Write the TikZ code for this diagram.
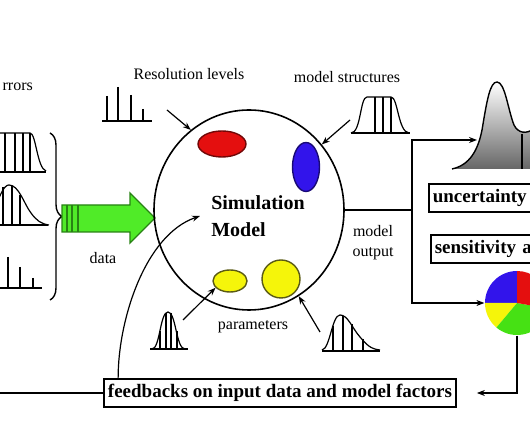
\documentclass[tikz,border=0pt]{standalone}
\usepackage{fontspec}
\setmainfont{Liberation Serif}
\usetikzlibrary{shapes.geometric,arrows.meta,decorations.pathreplacing}

\definecolor{pfeilgruen}{RGB}{80,235,40}
\definecolor{dunkelgruen}{RGB}{40,130,20}
\definecolor{rotfl}{RGB}{228,15,15}
\definecolor{blaufl}{RGB}{50,20,235}
\definecolor{gelbfl}{RGB}{245,245,10}
\definecolor{gruenfl}{RGB}{70,225,20}
\definecolor{oliv}{RGB}{90,90,20}

\tikzset{
	beschriftung/.style={font=\fontsize{8}{10}\selectfont, inner sep=1pt},
	ergebnis/.style={draw, line width=0.8pt, font=\fontsize{9.5}{11}\selectfont\bfseries,
		inner xsep=2pt, inner ysep=2.5pt, text height=7pt, text depth=2pt},
	zeiger/.style={-{Stealth[length=4pt,width=3pt]}, line width=0.6pt},
	fleck/.style={ellipse, draw, line width=0.7pt, inner sep=0pt}
}

\begin{document}
\begin{tikzpicture}[x=0.5pt, y=-0.5pt, line width=0.6pt]
	\clip (0,0) rectangle (530,442);

	% Eingangsdaten links
	\node[beschriftung, anchor=west] (fehler) at (0,87) {rrors};
	\draw (-12,172) .. controls (-6,172) and (-7,133) .. (-2,133) -- (30,133)
		.. controls (36,133) and (37,168) .. (46,171);
	\draw (-5,172) -- (46,172);
	\foreach \x in {5,15,23,30}
		\draw (\x,133) -- (\x,172);
	\draw (-20,225) .. controls (-6,225) and (-1,185) .. (9,185)
		.. controls (19,185) and (24,204) .. (31,213)
		.. controls (36,220) and (41,224) .. (49,225);
	\draw (-5,225) -- (48,225);
	\draw (3,187) -- (3,225);
	\draw (12,186) -- (12,225);
	\draw (20,195) -- (20,225);
	\draw (-5,288) -- (42,288);
	\draw (8,257) -- (8,288);
	\draw (20,267) -- (20,288);
	\draw (33,278) -- (33,288);
	\draw[decorate, decoration={brace, amplitude=6pt}, line width=0.7pt] (50,133) -- (50,300);

	% Datenpfeil
	\filldraw[fill=pfeilgruen, draw=dunkelgruen, line width=0.7pt] (62,205) -- (130,205)
		-- (130,193) -- (155,218) -- (130,243) -- (130,232) -- (62,232) -- cycle;
	\foreach \x in {67,72,78}
		\draw[dunkelgruen, line width=0.8pt] (\x,205) -- (\x,232);
	\node[beschriftung] (daten) at (103,258) {data};

	% Simulationsmodell
	\node[ellipse, draw, line width=0.8pt, minimum width=95pt, minimum height=100pt] (sim) at (249,210) {};
	\node[anchor=west, align=left, font=\fontsize{10}{13.5}\selectfont\bfseries] (modell) at (204,216) {Simulation\\Model};
	\node[fleck, fill=rotfl, draw=rotfl!50!black, minimum width=24pt, minimum height=13pt] (rot) at (222,144) {};
	\node[fleck, fill=blaufl, draw=blaufl!50!black, minimum width=13.5pt, minimum height=24.5pt] (blau) at (306,167) {};
	\node[fleck, fill=gelbfl, draw=oliv, minimum width=17pt, minimum height=11pt] (parA) at (230,281) {};
	\node[fleck, fill=gelbfl, draw=oliv, minimum width=19pt, minimum height=19pt] (parB) at (281,279) {};

	% Aufloesung
	\node[beschriftung] (aufloesung) at (189,74) {Resolution levels};
	\draw (102,121) -- (152,121);
	\draw (107,96) -- (107,121);
	\draw (118,87) -- (118,121);
	\draw (131,95) -- (131,121);
	\draw (143,109) -- (143,121);
	\coordinate (aufl) at (167,110);
	\draw[zeiger] (aufl) -- (sim.126);

	% Modellstrukturen
	\node[beschriftung] (struktur) at (347,77) {model structures};
	\draw (351,133) .. controls (361,133) and (360,97) .. (367,97) -- (391,97)
		.. controls (398,97) and (398,132) .. (409,133);
	\draw (351,133) -- (410,133);
	\foreach \x in {375,383,391}
		\draw (\x,97) -- (\x,133);
	\coordinate (strukt) at (350,120);
	\draw[zeiger] (strukt) -- (sim.42);

	% Parameter
	\node[beschriftung] (parameter) at (253,327) {parameters};
	\draw (152,349) .. controls (160,349) and (160,312) .. (168,312)
		.. controls (176,312) and (176,349) .. (185,349);
	\draw (150,349) -- (188,349);
	\draw (166,313) -- (166,349);
	\draw (171,313) -- (171,349);
	\draw (160,331) -- (160,349);
	\draw (177,331) -- (177,349);
	\draw (322,350) .. controls (330,349) and (332,315) .. (340,315)
		.. controls (348,315) and (352,328) .. (360,337)
		.. controls (366,344) and (370,349) .. (380,350);
	\draw (322,351) -- (380,351);
	\draw (333,326) -- (333,351);
	\draw (343,316) -- (343,351);
	\draw (352,324) -- (352,351);
	\draw (363,339) -- (363,351);
	\coordinate (parL) at (183,320);
	\coordinate (parR) at (320,332);
	\draw[zeiger] (parL) -- (parA.205);
	\draw[zeiger] (parR) -- (sim.-60);

	% Modellausgabe
	\node[beschriftung, align=center] (ausgabe) at (373,243) {model\\output};
	\coordinate (knoten) at (412,210);
	\draw (sim.east) -- (knoten);

	% Unsicherheit
	\shade[top color=white, bottom color=black!60] (452,169) .. controls (470,165) and (478,150) .. (482,130)
		.. controls (487,100) and (490,82) .. (497,82)
		.. controls (505,82) and (508,110) .. (514,125)
		.. controls (518,133) and (526,135) .. (535,128) -- (535,169) -- cycle;
	\draw[line width=0.7pt] (452,169) .. controls (470,165) and (478,150) .. (482,130)
		.. controls (487,100) and (490,82) .. (497,82)
		.. controls (505,82) and (508,110) .. (514,125)
		.. controls (518,133) and (526,135) .. (535,128);
	\draw (522,134) -- (522,169);
	\coordinate (vert) at (477,140);
	\node[ergebnis, anchor=west, text width=70pt, align=left] (unsicher) at (428,198) {uncertainty};

	% Sensitivitaet
	\node[ergebnis, anchor=west, text width=70pt, align=left] (sensitiv) at (430,249) {sensitivity a};
	\node[circle, minimum size=32pt, inner sep=0pt] (torte) at (517,303) {};
	\fill[blaufl] (torte.center) -- ++(90:16pt) arc[start angle=90, end angle=180, radius=16pt] -- cycle;
	\fill[gelbfl] (torte.center) -- ++(180:16pt) arc[start angle=180, end angle=230, radius=16pt] -- cycle;
	\fill[gruenfl] (torte.center) -- ++(230:16pt) arc[start angle=230, end angle=350, radius=16pt] -- cycle;
	\fill[rotfl] (torte.center) -- ++(350:16pt) arc[start angle=350, end angle=450, radius=16pt] -- cycle;

	\draw[zeiger] (knoten) |- (vert);
	\draw[zeiger] (knoten) |- (torte.west);

	% Rueckkopplung
	\node[ergebnis] (rueck) at (280,393) {feedbacks on input data and model factors};
	\coordinate (links) at (-5,393);
	\draw (rueck.west) -- (links);
	\draw[zeiger] (torte.south) |- ([xshift=10pt]rueck.east);
	\draw[zeiger] ([xshift=7.5pt]rueck.north west) .. controls (118,320) and (145,235) .. ([xshift=-2pt]modell.west);
\end{tikzpicture}
\end{document}
